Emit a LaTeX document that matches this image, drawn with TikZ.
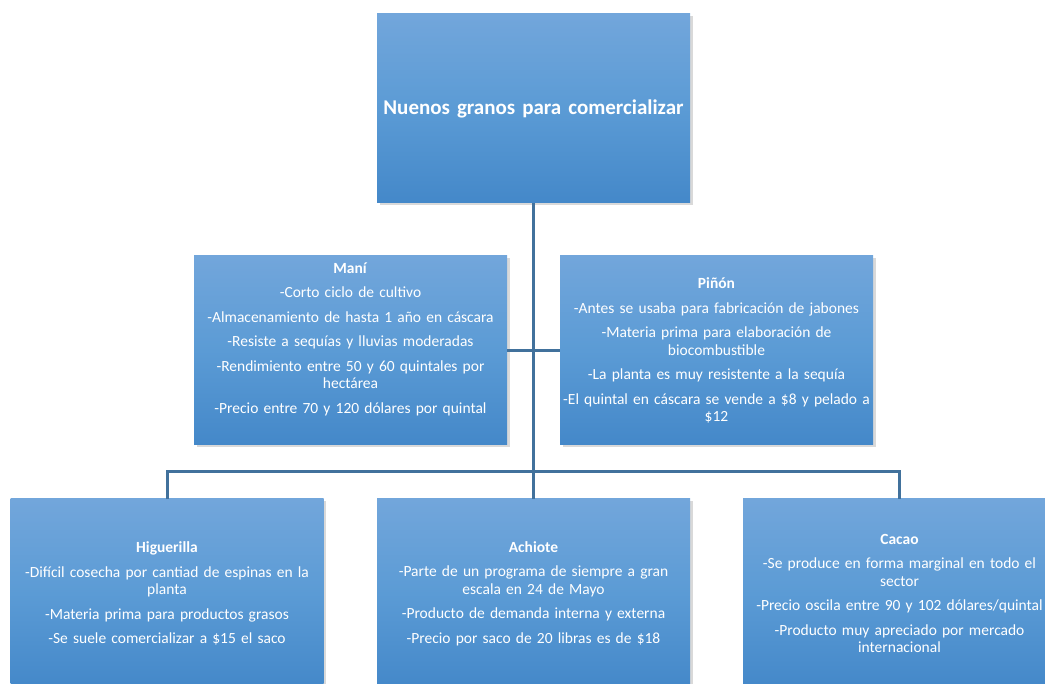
\documentclass[tikz,border=0pt]{standalone}
\usepackage{fontspec}
\setmainfont{Carlito}
\usetikzlibrary{shadows}
\definecolor{cajaarriba}{RGB}{114,166,219}
\definecolor{cajamedio}{RGB}{91,155,213}
\definecolor{cajaabajo}{RGB}{68,136,201}
\definecolor{linea}{RGB}{65,113,156}
\tikzset{%
  grano/.style  = {shape=rectangle, minimum width=313pt, minimum height=189pt,%
                   inner sep=0pt, text width=311pt, align=center, text=white,%
                   top color=cajaarriba, bottom color=cajaabajo, middle color=cajamedio,%
                   drop shadow={opacity=0.3, shadow xshift=2.5pt, shadow yshift=-2.5pt}},%
  raiz/.style   = {grano, font=\fontsize{21}{25}\selectfont\bfseries},%
  enlace/.style = {draw=linea, line width=3pt}%
}

\begin{document}
\begin{tikzpicture}[x=1pt, y=-1pt, every node/.style = {font=\fontsize{15.5}{17.5}\selectfont}]
  \useasboundingbox (0,0) rectangle (1045,684);
  \clip (0,0) rectangle (1045,684);
  \node[raiz] (raiz) at (533.5,108.5) {Nuenos granos para comercializar};
  \node[grano] (mani) at (350.5,350.5) {\textbf{Maní}\\[7pt]%
    -Corto ciclo de cultivo\\[7pt]%
    -Almacenamiento de hasta 1 año en cáscara\\[7pt]%
    -Resiste a sequías y lluvias moderadas\\[7pt]%
    -Rendimiento entre 50 y 60 quintales por\\ hectárea\\[7pt]%
    -Precio entre 70 y 120 dólares por quintal\\[8pt]\mbox{}};
  \node[grano] (pinon) at (716.5,350.5) {\textbf{Piñón}\\[7pt]%
    -Antes se usaba para fabricación de jabones\\[7pt]%
    -Materia prima para elaboración de\\ biocombustible\\[7pt]%
    -La planta es muy resistente a la sequía\\[7pt]%
    -El quintal en cáscara se vende a \$8 y pelado a\\ \$12};
  \node[grano] (higuerilla) at (167,593.5) {\textbf{Higuerilla}\\[7pt]%
    -Difícil cosecha por cantiad de espinas en la\\ planta\\[7pt]%
    -Materia prima para productos grasos\\[7pt]%
    -Se suele comercializar a \$15 el saco};
  \node[grano] (achiote) at (533.5,593.5) {\textbf{Achiote}\\[7pt]%
    -Parte de un programa de siempre a gran\\ escala en 24 de Mayo\\[7pt]%
    -Producto de demanda interna y externa\\[7pt]%
    -Precio por saco de 20 libras es de \$18};
  \node[grano] (cacao) at (899.5,593.5) {\textbf{Cacao}\\[7pt]%
    -Se produce en forma marginal en todo el\\ sector\\[7pt]%
    -Precio oscila entre 90 y 102 dólares/quintal\\[7pt]%
    -Producto muy apreciado por mercado\\ internacional};
  \coordinate (bus) at (533.5,472);
  \draw[enlace] (raiz.south) -- (bus);
  \draw[enlace] (mani.east) -- (pinon.west);
  \draw[enlace] (higuerilla.north) |- (bus) -| (cacao.north);
  \draw[enlace] (bus) -- (achiote.north);
\end{tikzpicture}
\end{document}
